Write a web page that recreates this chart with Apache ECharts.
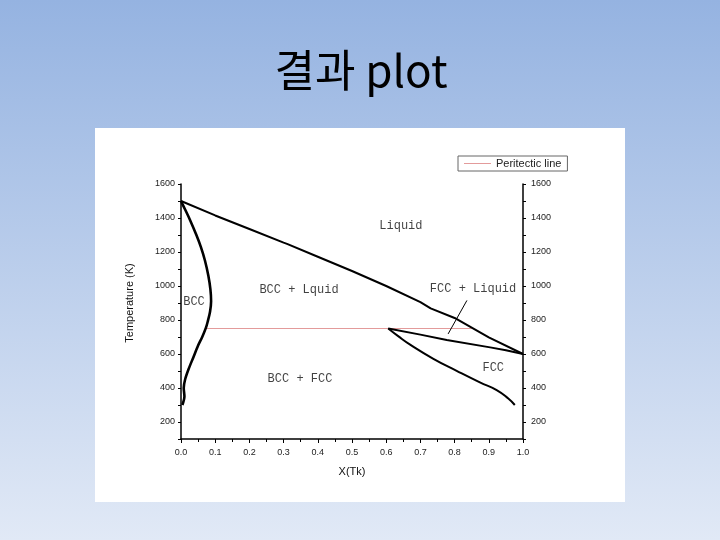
<!DOCTYPE html>
<html>
<head>
<meta charset="utf-8">
<script src="https://cdn.jsdelivr.net/npm/echarts@6/dist/echarts.min.js"></script>
<style>
html,body{margin:0;padding:0;}
#chart{width:720px;height:540px;}
</style>
</head>
<body>
<div id="chart"></div>
<script>
// ---- data (x = mole fraction of Tk, T in K) ----
const liquidusX = [0, 0.1, 0.2, 0.3, 0.31, 0.4, 0.5, 0.6, 0.7, 0.73, 0.8, 0.9, 1.0];
const liquidusT = [1500, 1415, 1335, 1255, 1248, 1172, 1088, 1000, 905, 868, 812, 698, 600];

const bccX = [0, 0.012, 0.026, 0.045, 0.058, 0.07, 0.08, 0.086, 0.088, 0.085, 0.078, 0.073, 0.062, 0.05, 0.036, 0.022, 0.012, 0.008, 0.01, 0.004];
const bccT = [1500, 1450, 1390, 1300, 1230, 1150, 1060, 980, 910, 850, 790, 755, 700, 650, 580, 510, 450, 400, 350, 300];

const fccSolidusX = [0.606, 0.7, 0.777, 0.904, 0.95, 1.0];
const fccSolidusT = [750, 714, 682, 639, 622, 600];

const fccSolvusX = [0.606, 0.635, 0.67, 0.738, 0.806, 0.874, 0.923, 0.957, 0.976];
const fccSolvusT = [750, 705, 655, 572, 501, 433, 388, 338, 300];

const peritecticX = [0.073, 0.85];
const peritecticT = [750, 750];

const leaderX = [0.781, 0.836];
const leaderT = [718, 915];

const regionNames = ['Liquid', 'BCC + Lquid', 'FCC + Liquid', 'BCC', 'BCC + FCC', 'FCC'];
const regionX = [0.643, 0.345, 0.854, 0.038, 0.348, 0.913];
const regionT = [1352, 980, 983, 909, 452, 521];

const yTickLabels = ['200', '400', '600', '800', '1000', '1200', '1400', '1600'];
const xTickLabels = ['0.0', '0.1', '0.2', '0.3', '0.4', '0.5', '0.6', '0.7', '0.8', '0.9', '1.0'];

const titleText = '결과 plot';
const legendName = 'Peritectic line';

// ---- build ----
const pairs = (xs, ys) => xs.map((x, i) => [x, ys[i]]);
const tickFont = { fontFamily: 'Liberation Sans, Arial, sans-serif', fontSize: 9, color: '#222' };

function yAxisCfg(pos) {
  return {
    type: 'value', position: pos, min: 100, max: 1600, interval: 100,
    axisLine: { show: true, lineStyle: { color: '#000', width: 1.5 } },
    axisTick: { show: true, inside: false, length: 3, lineStyle: { color: '#000' } },
    splitLine: { show: false },
    axisLabel: Object.assign({
      margin: pos === 'left' ? 6 : 8,
      formatter: v => (yTickLabels.indexOf(String(v)) >= 0 ? String(v) : '')
    }, tickFont)
  };
}

const chart = echarts.init(document.getElementById('chart'), null, { renderer: 'canvas' });

const blackLine = (data, w, smooth) => ({
  type: 'line', data: data, symbol: 'none', smooth: smooth, showSymbol: false,
  lineStyle: { color: '#000', width: w }, z: 3, silent: true
});

chart.setOption({
  animation: false,
  backgroundColor: {
    type: 'linear', x: 0, y: 0, x2: 0, y2: 1,
    colorStops: [{ offset: 0, color: '#95b3e1' }, { offset: 1, color: '#e1e9f6' }]
  },
  graphic: [
    { type: 'rect', z: -10, shape: { x: 95, y: 128, width: 530, height: 374 }, style: { fill: '#ffffff' } },
    { type: 'text', z: 10, x: 361, y: 70, style: {
        text: titleText, fill: '#000', font: '44px "Noto Sans CJK KR", sans-serif',
        textAlign: 'center', textVerticalAlign: 'middle' } },
    { type: 'text', z: 10, x: 130, y: 303, rotation: Math.PI / 2, style: {
        text: 'Temperature (K)', fill: '#111', font: '11px "Liberation Sans", Arial, sans-serif',
        textAlign: 'center', textVerticalAlign: 'middle' } }
  ],
  grid: { left: 181, right: 197, top: 184, bottom: 101 },
  legend: {
    left: 458, top: 156, padding: [2, 6, 2, 6],
    borderColor: '#666', borderWidth: 1, backgroundColor: '#fff',
    itemWidth: 27, itemHeight: 10, itemGap: 4,
    textStyle: { fontFamily: 'Liberation Sans, Arial, sans-serif', fontSize: 11, color: '#222' },
    data: [{ name: legendName, icon: 'path://M0,5L27,5L27,6L0,6Z' }]
  },
  xAxis: {
    type: 'value', min: 0, max: 1, interval: 0.1,
    name: 'X(Tk)', nameLocation: 'middle', nameGap: 27,
    nameTextStyle: { fontFamily: 'Liberation Sans, Arial, sans-serif', fontSize: 11, color: '#111' },
    axisLine: { onZero: false, lineStyle: { color: '#000', width: 1.5 } },
    axisTick: { length: 4, lineStyle: { color: '#000' } },
    minorTick: { show: true, splitNumber: 2, length: 3, lineStyle: { color: '#000' } },
    splitLine: { show: false },
    axisLabel: Object.assign({ margin: 9, formatter: v => xTickLabels[Math.round(v * 10)] }, tickFont)
  },
  yAxis: [yAxisCfg('left'), yAxisCfg('right')],
  series: [
    { name: legendName, type: 'line', data: pairs(peritecticX, peritecticT), symbol: 'none',
      lineStyle: { color: '#e39b9b', width: 1 }, itemStyle: { color: '#e39b9b' }, z: 2, silent: true },
    blackLine(pairs(liquidusX, liquidusT), 2, false),
    blackLine(pairs(bccX, bccT), 2.6, 0.3),
    blackLine(pairs(fccSolidusX, fccSolidusT), 2, false),
    blackLine(pairs(fccSolvusX, fccSolvusT), 2, 0.5),
    blackLine(pairs(leaderX, leaderT), 1, false),
    { type: 'scatter', symbolSize: 0, silent: true, z: 5,
      data: regionX.map((x, i) => ({ value: [x, regionT[i]], name: regionNames[i] })),
      label: { show: true, position: 'inside', formatter: p => p.name,
        fontFamily: '"Liberation Mono", "DejaVu Sans Mono", monospace', fontSize: 12, color: '#111' } }
  ]
});
</script>
</body>
</html>
